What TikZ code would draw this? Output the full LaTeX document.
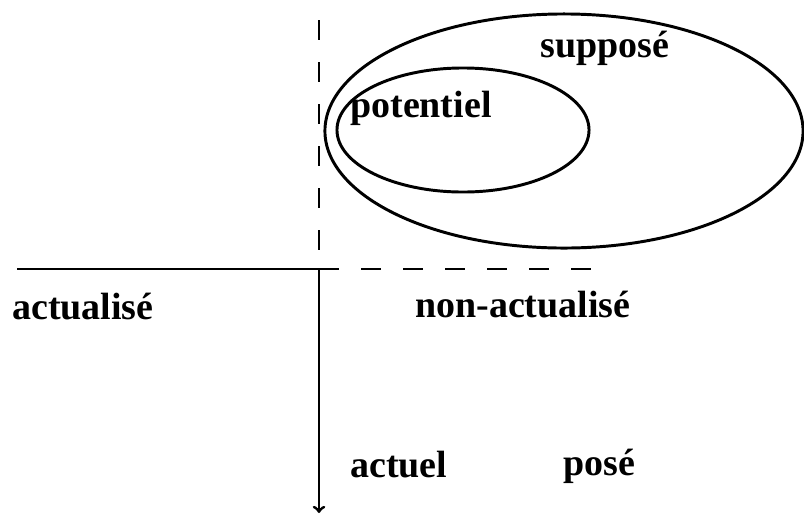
\documentclass[tikz,border=0pt]{standalone}
\usepackage{fontspec}
\setmainfont{Liberation Serif}
\usetikzlibrary{shapes,arrows,positioning}

\begin{document}
\begin{tikzpicture}[x=0.025cm, y=-0.025cm,
    axis/.style={line width=2.1pt, draw=black},
    gap/.style={dash pattern=on 0.5cm off 0.55cm},
    zone/.style={draw, ellipse, line width=2.1pt, inner sep=0pt},
    label/.style={font=\fontsize{27}{30}\selectfont\bfseries, inner sep=0pt, anchor=base west}]
    \useasboundingbox (0,0) rectangle (804,515);

    % the two axes
    \coordinate (top) at (319,20);
    \coordinate (origin) at (319,269);
    \coordinate (bottom) at (319,513);
    \coordinate (left) at (17,269);
    \coordinate (right) at (606,269);
    \draw[axis, gap] (top) -- (origin);
    \draw[axis, ->] (origin) -- (bottom);
    \draw[axis] (left) -- (origin);
    \draw[axis, gap] (origin) -- (right);

    % nested zones
    \node[zone, minimum width=11.95cm, minimum height=5.85cm] (suppose) at (564,131) {};
    \node[zone, minimum width=6.3cm, minimum height=3.1cm] (potentiel) at (463,130) {};

    % labels
    \node[label] (lsuppose) at (540,57) {supposé};
    \node[label] (lpotentiel) at (350,117) {potentiel};
    \node[label] (lactualise) at (12,319) {actualisé};
    \node[label] (lnonactualise) at (415,317) {non-actualisé};
    \node[label] (lactuel) at (350,477) {actuel};
    \node[label] (lpose) at (563,475) {posé};
\end{tikzpicture}
\end{document}
